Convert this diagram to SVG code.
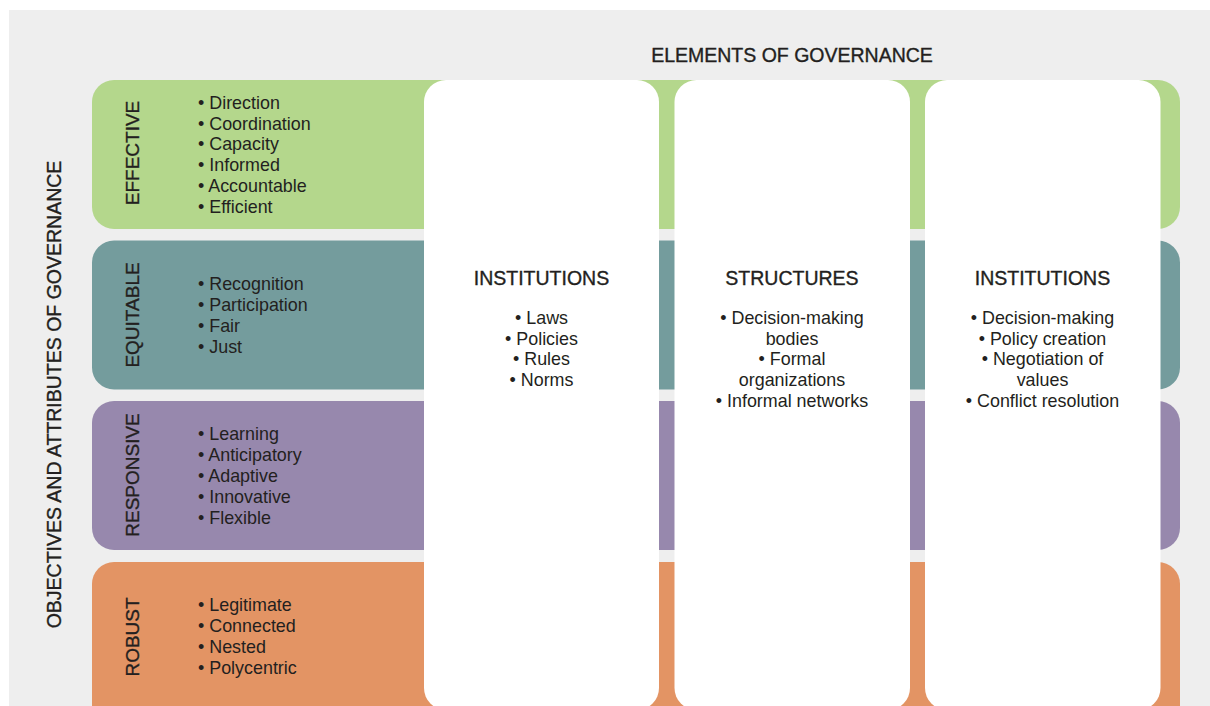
<svg xmlns="http://www.w3.org/2000/svg" width="1210" height="706" viewBox="0 0 1210 706">
<style>
text{font-family:"Liberation Sans",Arial,sans-serif;fill:#231f20}
.h{font-size:19.5px;stroke:#231f20;stroke-width:0.35}
.v{font-size:19px;stroke:#231f20;stroke-width:0.35;text-anchor:middle}
.b{font-size:17.9px}
.c{font-size:17.9px;text-anchor:middle}
.col{fill:#ffffff}
</style>
<rect x="0" y="0" width="1210" height="706" fill="#ffffff"/>
<rect x="9" y="10" width="1201" height="696" fill="#eeeeee"/>
<text class="h" x="792" y="61.5" text-anchor="middle">ELEMENTS OF GOVERNANCE</text>
<text class="h" transform="translate(61,394.5) rotate(-90)" text-anchor="middle">OBJECTIVES AND ATTRIBUTES OF GOVERNANCE</text>
<g id="band-effective">
<rect x="92" y="80" width="1088" height="149" rx="22" fill="#b4d78c"/>
<text class="v" transform="translate(139,153) rotate(-90)">EFFECTIVE</text>
<text class="b" x="198" y="109">• Direction</text>
<text class="b" x="198" y="130">• Coordination</text>
<text class="b" x="198" y="150">• Capacity</text>
<text class="b" x="198" y="171">• Informed</text>
<text class="b" x="198" y="192">• Accountable</text>
<text class="b" x="198" y="213">• Efficient</text>
</g>
<g id="band-equitable">
<rect x="92" y="240.5" width="1088" height="149" rx="22" fill="#749c9d"/>
<text class="v" transform="translate(139,315) rotate(-90)">EQUITABLE</text>
<text class="b" x="198" y="290">• Recognition</text>
<text class="b" x="198" y="311">• Participation</text>
<text class="b" x="198" y="332">• Fair</text>
<text class="b" x="198" y="353">• Just</text>
</g>
<g id="band-responsive">
<rect x="92" y="401" width="1088" height="149" rx="22" fill="#9788ad"/>
<text class="v" transform="translate(139,475) rotate(-90)">RESPONSIVE</text>
<text class="b" x="198" y="440">• Learning</text>
<text class="b" x="198" y="461">• Anticipatory</text>
<text class="b" x="198" y="482">• Adaptive</text>
<text class="b" x="198" y="503">• Innovative</text>
<text class="b" x="198" y="524">• Flexible</text>
</g>
<g id="band-robust">
<rect x="92" y="562" width="1088" height="170" rx="22" fill="#e39464"/>
<text class="v" transform="translate(139,637) rotate(-90)">ROBUST</text>
<text class="b" x="198" y="611">• Legitimate</text>
<text class="b" x="198" y="632">• Connected</text>
<text class="b" x="198" y="653">• Nested</text>
<text class="b" x="198" y="674">• Polycentric</text>
</g>
<g id="col-institutions">
<rect class="col" x="424" y="80" width="235" height="630" rx="22"/>
<text class="h" x="541.5" y="285" text-anchor="middle">INSTITUTIONS</text>
<text class="c" x="541.5" y="324">• Laws</text>
<text class="c" x="541.5" y="345">• Policies</text>
<text class="c" x="541.5" y="365">• Rules</text>
<text class="c" x="541.5" y="386">• Norms</text>
</g>
<g id="col-structures">
<rect class="col" x="674.5" y="80" width="235.5" height="630" rx="22"/>
<text class="h" x="792" y="285" text-anchor="middle">STRUCTURES</text>
<text class="c" x="792" y="324">• Decision-making</text>
<text class="c" x="792" y="345">bodies</text>
<text class="c" x="792" y="365">• Formal</text>
<text class="c" x="792" y="386">organizations</text>
<text class="c" x="792" y="407">• Informal networks</text>
</g>
<g id="col-processes">
<rect class="col" x="925" y="80" width="235.5" height="630" rx="22"/>
<text class="h" x="1042.5" y="285" text-anchor="middle">INSTITUTIONS</text>
<text class="c" x="1042.5" y="324">• Decision-making</text>
<text class="c" x="1042.5" y="345">• Policy creation</text>
<text class="c" x="1042.5" y="365">• Negotiation of</text>
<text class="c" x="1042.5" y="386">values</text>
<text class="c" x="1042.5" y="407">• Conflict resolution</text>
</g>
<g id="connectors"></g>
</svg>
